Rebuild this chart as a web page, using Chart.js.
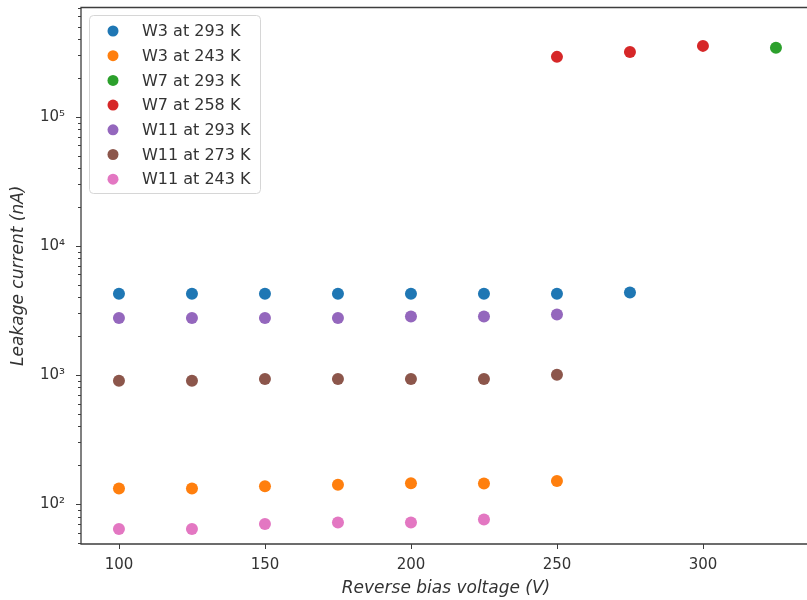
<!DOCTYPE html>
<html>
<head>
<meta charset="utf-8">
<title>Leakage current vs reverse bias</title>
<script src="https://cdn.jsdelivr.net/npm/chart.js"></script>
<style>
    html, body { margin: 0; padding: 0; background: #ffffff; overflow: hidden; }
    canvas { display: block; }
</style>
</head>
<body>
<canvas id="leakageChart" width="830" height="600"></canvas>
<script>
// Reverse bias voltage (V) for each measurement
const voltsW3_293 = [100, 125, 150, 175, 200, 225, 250, 275];
const voltsW3_243 = [100, 125, 150, 175, 200, 225, 250];
const voltsW7_293 = [325];
const voltsW7_258 = [250, 275, 300];
const voltsW11_293 = [100, 125, 150, 175, 200, 225, 250];
const voltsW11_273 = [100, 125, 150, 175, 200, 225, 250];
const voltsW11_243 = [100, 125, 150, 175, 200, 225];

// Leakage current (nA)
const leakW3_293 = [4250, 4250, 4250, 4250, 4250, 4250, 4250, 4350];
const leakW3_243 = [132, 132, 137, 141, 145, 144, 151];
const leakW7_293 = [342000];
const leakW7_258 = [291000, 318000, 354000];
const leakW11_293 = [2760, 2760, 2760, 2760, 2840, 2840, 2940];
const leakW11_273 = [900, 900, 930, 930, 930, 930, 1005];
const leakW11_243 = [64, 64, 70, 72, 72, 76];

const seriesLabels = ['W3 at 293 K', 'W3 at 243 K', 'W7 at 293 K', 'W7 at 258 K',
                      'W11 at 293 K', 'W11 at 273 K', 'W11 at 243 K'];
const seriesColors = ['#1f77b4', '#ff7f0e', '#2ca02c', '#d62728', '#9467bd', '#8c564b', '#e377c2'];

const xTicks = [100, 150, 200, 250, 300];
const superscripts = { '1': '¹', '2': '²', '3': '³', '4': '⁴', '5': '⁵', '6': '⁶' };

const xs = [voltsW3_293, voltsW3_243, voltsW7_293, voltsW7_258, voltsW11_293, voltsW11_273, voltsW11_243];
const ys = [leakW3_293, leakW3_243, leakW7_293, leakW7_258, leakW11_293, leakW11_273, leakW11_243];

const datasets = seriesLabels.map((label, i) => ({
    label: label,
    data: xs[i].map((v, j) => ({ x: v, y: ys[i][j] })),
    backgroundColor: seriesColors[i],
    borderColor: seriesColors[i],
    borderWidth: 0,
    pointRadius: 6,
    pointHoverRadius: 6
}));

const textColor = '#333333';
const spineColor = '#3d3d3d';

// spines, tick marks and the in-axes legend, matplotlib style
const framePlugin = {
    id: 'frame',
    afterDraw(chart) {
        const ctx = chart.ctx;
        const area = chart.chartArea;
        const xs = chart.scales.x;
        const ys = chart.scales.y;
        ctx.save();

        // left, top and bottom spines (the right one falls past the page edge)
        ctx.strokeStyle = spineColor;
        ctx.lineWidth = 1.3;
        ctx.beginPath();
        ctx.moveTo(area.right, area.top);
        ctx.lineTo(area.left, area.top);
        ctx.lineTo(area.left, area.bottom);
        ctx.lineTo(area.right, area.bottom);
        ctx.stroke();

        ctx.lineWidth = 1;
        ctx.beginPath();
        xTicks.forEach(v => {
            const px = Math.round(xs.getPixelForValue(v)) + 0.5;
            ctx.moveTo(px, area.bottom);
            ctx.lineTo(px, area.bottom + 5);
        });
        ys.ticks.forEach(t => {
            const py = Math.round(ys.getPixelForValue(t.value)) + 0.5;
            ctx.moveTo(area.left, py);
            ctx.lineTo(area.left - (t.major ? 5 : 3), py);
        });
        ctx.stroke();

        // legend box
        const boxX = 89.5, boxY = 15.5, boxW = 171, boxH = 178, r = 4;
        ctx.beginPath();
        ctx.moveTo(boxX + r, boxY);
        ctx.arcTo(boxX + boxW, boxY, boxX + boxW, boxY + boxH, r);
        ctx.arcTo(boxX + boxW, boxY + boxH, boxX, boxY + boxH, r);
        ctx.arcTo(boxX, boxY + boxH, boxX, boxY, r);
        ctx.arcTo(boxX, boxY, boxX + boxW, boxY, r);
        ctx.closePath();
        ctx.fillStyle = 'rgba(255,255,255,0.8)';
        ctx.fill();
        ctx.strokeStyle = '#d6d6d6';
        ctx.lineWidth = 1;
        ctx.stroke();

        ctx.font = '16px "DejaVu Sans"';
        ctx.textBaseline = 'middle';
        ctx.textAlign = 'left';
        chart.data.datasets.forEach((ds, i) => {
            const cy = 31 + i * 24.7;
            ctx.beginPath();
            ctx.arc(113, cy, 5.5, 0, Math.PI * 2);
            ctx.fillStyle = ds.backgroundColor;
            ctx.fill();
            ctx.fillStyle = textColor;
            ctx.fillText(ds.label, 142, cy + 1);
        });
        ctx.restore();
    }
};

new Chart(document.getElementById('leakageChart'), {
    type: 'scatter',
    data: { datasets: datasets },
    options: {
        responsive: false,
        animation: false,
        layout: { padding: { top: 7.5, right: 19, bottom: 0, left: 0 } },
        plugins: {
            legend: { display: false },
            tooltip: { enabled: false }
        },
        scales: {
            x: {
                type: 'linear',
                min: 87,
                max: 337,
                afterFit(scale) {
                    scale.height = 56;
                    scale.paddingLeft = 0;
                    scale.paddingRight = 0;
                },
                afterBuildTicks(scale) {
                    scale.ticks = xTicks.map(v => ({ value: v }));
                },
                grid: { display: false, drawTicks: false },
                border: { display: false },
                ticks: {
                    color: textColor,
                    font: { family: 'DejaVu Sans', size: 15 },
                    padding: 12,
                    maxRotation: 0,
                    autoSkip: false
                },
                title: {
                    display: true,
                    text: 'Reverse bias voltage (V)',
                    color: textColor,
                    font: { family: 'DejaVu Sans', size: 17, style: 'italic' },
                    padding: { top: 0, bottom: 1 }
                }
            },
            y: {
                type: 'logarithmic',
                min: 49,
                max: 702000,
                afterFit(scale) {
                    scale.width = 81;
                    scale.paddingTop = 0;
                    scale.paddingBottom = 0;
                },
                afterBuildTicks(scale) {
                    const ticks = [];
                    for (let k = 1; k <= 6; k++) {
                        for (let m = 1; m <= 9; m++) {
                            const v = m * Math.pow(10, k);
                            if (v >= scale.min && v <= scale.max) {
                                ticks.push({ value: v, major: m === 1 });
                            }
                        }
                    }
                    scale.ticks = ticks;
                },
                grid: { display: false, drawTicks: false },
                border: { display: false },
                ticks: {
                    color: textColor,
                    font: { family: 'DejaVu Sans', size: 15 },
                    padding: 16,
                    autoSkip: false,
                    callback: function (value) {
                        const exp = Math.round(Math.log10(value));
                        if (Math.abs(value - Math.pow(10, exp)) > 1e-6 * value) return '';
                        return '10' + superscripts[String(exp)];
                    }
                },
                title: {
                    display: true,
                    text: 'Leakage current (nA)',
                    color: textColor,
                    font: { family: 'DejaVu Sans', size: 17, style: 'italic' },
                    padding: { top: 8, bottom: 0 }
                }
            }
        }
    },
    plugins: [framePlugin]
});
</script>
</body>
</html>
